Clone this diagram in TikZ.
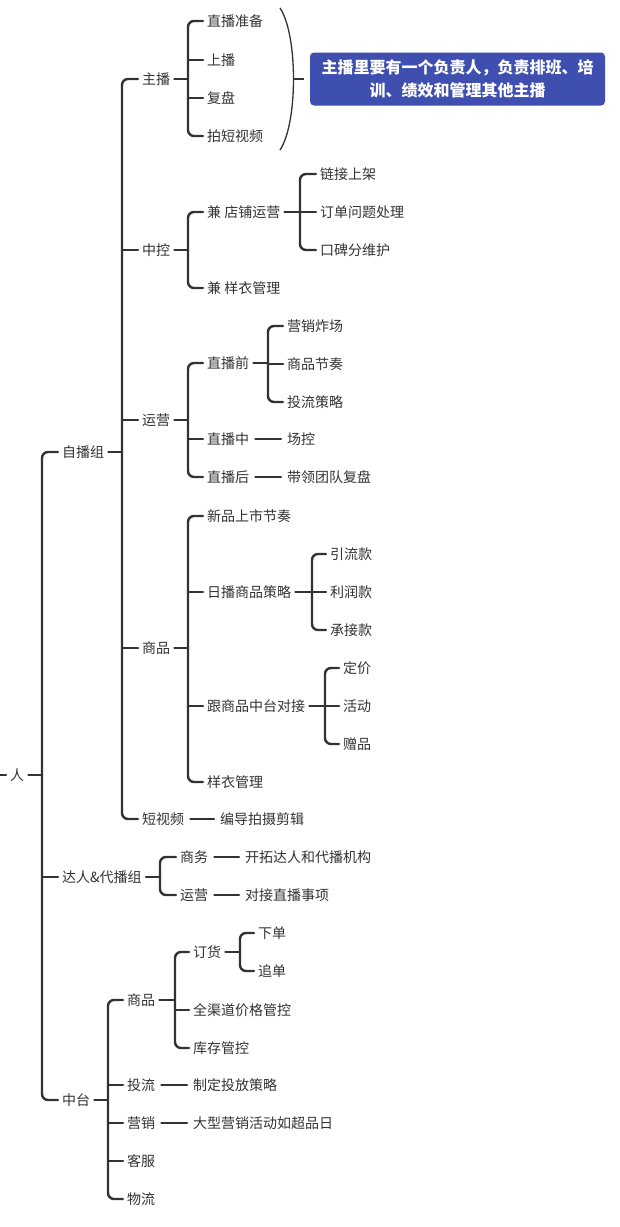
\documentclass[tikz,border=0pt]{standalone}
\usepackage{fontspec}
\setmainfont{Noto Sans CJK SC}
\begin{document}
\begin{tikzpicture}[x=1pt,y=-1pt,
  t/.style={anchor=west,inner sep=0pt,text=black!80,font=\fontsize{14}{16}\selectfont},
  ln/.style={draw=black!80,line width=2.4pt,line cap=round}]
\useasboundingbox[fill=white] (0,0) rectangle (620,1227);
\newcommand\br[5]{%
 \coordinate (sp) at (#2,0);
 \draw[ln] ([xshift=4]#1.east) -- (#1.east -| sp);
 \draw[ln,rounded corners=6] ([xshift=-4]#3.west) -- (#3.west -| sp) -- (#4.west -| sp) -- ([xshift=-4]#4.west);
 \foreach \m in {#5} {\draw[ln] (\m.west -| sp) -- ([xshift=-4]\m.west);}}
\newcommand\brtwo[4]{%
 \coordinate (sp) at (#2,0);
 \draw[ln] ([xshift=4]#1.east) -- (#1.east -| sp);
 \draw[ln,rounded corners=6] ([xshift=-4]#3.west) -- (#3.west -| sp) -- (#4.west -| sp) -- ([xshift=-4]#4.west);}
\newcommand\one[2]{\draw[ln] ([xshift=6]#1.east) -- ([xshift=-6]#2.west);}
% nodes
\node[t] (ren) at (10,775) {人};
\node[t] (zb) at (62,452) {自播组};
\node[t] (dr) at (62,877) {达人\&代播组};
\node[t] (zt) at (62,1100) {中台};
\node[t] (zhubo) at (142,79) {主播};
\node[t] (zk) at (142,250) {中控};
\node[t] (yy) at (142,420) {运营};
\node[t] (sp1) at (142,648) {商品};
\node[t] (dsp) at (142,819) {短视频};
\node[t] (a1) at (207,21) {直播准备};
\node[t] (a2) at (207,60) {上播};
\node[t] (a3) at (207,98) {复盘};
\node[t] (a4) at (207,136) {拍短视频};
\node[t] (b1) at (207,212) {兼 店铺运营};
\node[t] (b2) at (207,288) {兼 样衣管理};
\node[t] (c1) at (320,174) {链接上架};
\node[t] (c2) at (320,212) {订单问题处理};
\node[t] (c3) at (320,250) {口碑分维护};
\node[t] (d1) at (207,363) {直播前};
\node[t] (d2) at (207,439) {直播中};
\node[t] (d3) at (207,477) {直播后};
\node[t] (e1) at (287,326) {营销炸场};
\node[t] (e2) at (287,364) {商品节奏};
\node[t] (e3) at (287,402) {投流策略};
\node[t] (e4) at (287,439) {场控};
\node[t] (e5) at (287,477) {带领团队复盘};
\node[t] (f1) at (207,516) {新品上市节奏};
\node[t] (f2) at (207,592) {日播商品策略};
\node[t] (f3) at (207,706) {跟商品中台对接};
\node[t] (f4) at (207,782) {样衣管理};
\node[t] (g1) at (330,554) {引流款};
\node[t] (g2) at (330,592) {利润款};
\node[t] (g3) at (330,630) {承接款};
\node[t] (h1) at (343,668) {定价};
\node[t] (h2) at (343,706) {活动};
\node[t] (h3) at (343,744) {赠品};
\node[t] (bj) at (220,819) {编导拍摄剪辑};
\node[t] (sw) at (180,857) {商务};
\node[t] (yy2) at (180,895) {运营};
\node[t] (kt) at (245,857) {开拓达人和代播机构};
\node[t] (dj) at (245,895) {对接直播事项};
\node[t] (sp2) at (127,1000) {商品};
\node[t] (tl) at (127,1085) {投流};
\node[t] (yx) at (127,1123) {营销};
\node[t] (kf) at (127,1161) {客服};
\node[t] (wl) at (127,1199) {物流};
\node[t] (dh) at (193,952) {订货};
\node[t] (qq) at (193,1010) {全渠道价格管控};
\node[t] (kc) at (193,1048) {库存管控};
\node[t] (xd) at (258,933) {下单};
\node[t] (zd) at (258,971) {追单};
\node[t] (zd2) at (193,1085) {制定投放策略};
\node[t] (dx) at (193,1123) {大型营销活动如超品日};
\node[draw=none,fill={rgb,255:red,63;green,79;blue,176},rounded corners=4pt,text=white,
  font=\bfseries\fontsize{16}{23}\selectfont,align=center,minimum width=295pt,minimum height=53pt,inner sep=2pt]
  (call) at (457.5,79) {主播里要有一个负责人，负责排班、培\\训、绩效和管理其他主播};
% connectors
\coordinate (in) at (0,775);
\draw[ln] (in) -- ([xshift=-4]ren.west);
\br{ren}{42}{zb}{zt}{dr}
\br{zb}{122}{zhubo}{dsp}{zk,yy,sp1}
\br{zhubo}{188}{a1}{a4}{a2,a3}
\brtwo{zk}{188}{b1}{b2}
\br{b1}{300}{c1}{c3}{c2}
\br{yy}{188}{d1}{d3}{d2}
\br{d1}{268}{e1}{e3}{e2}
\one{d2}{e4}
\one{d3}{e5}
\br{sp1}{188}{f1}{f4}{f2,f3}
\br{f2}{312}{g1}{g3}{g2}
\br{f3}{325}{h1}{h3}{h2}
\one{dsp}{bj}
\brtwo{dr}{160}{sw}{yy2}
\one{sw}{kt}
\one{yy2}{dj}
\br{zt}{108}{sp2}{wl}{tl,yx,kf}
\br{sp2}{175}{dh}{kc}{qq}
\brtwo{dh}{240}{xd}{zd}
\one{tl}{zd2}
\one{yx}{dx}
\coordinate (pt) at (280,8); \coordinate (pb) at (280,150); \coordinate (pm) at (294,79);
\draw[draw=black!80,line width=1.3pt] (pt) .. controls (298,35) and (298,123) .. (pb);
\draw[draw=black!80,line width=1.3pt] (pm) -- ([xshift=-6]call.west);
\end{tikzpicture}
\end{document}
